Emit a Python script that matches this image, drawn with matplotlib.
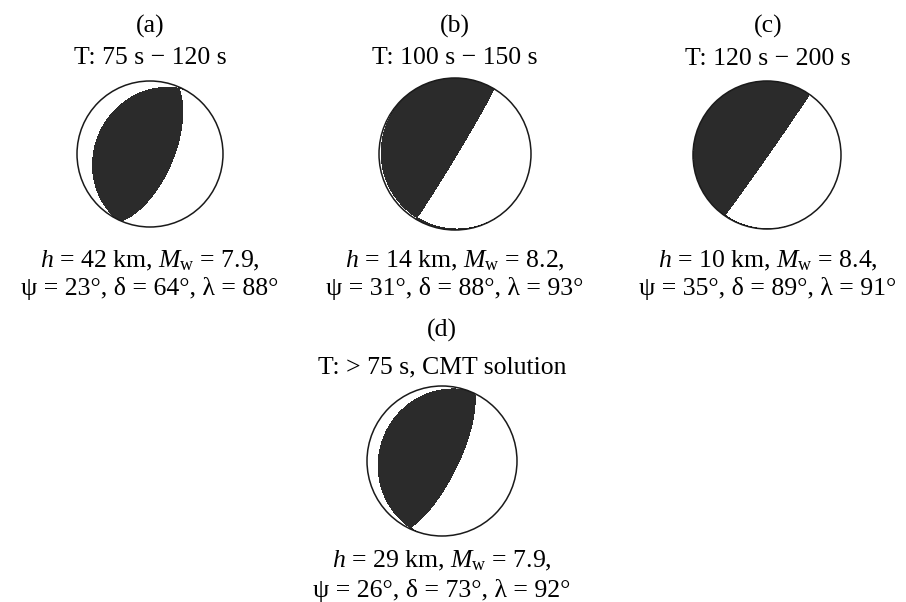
import numpy as np
import matplotlib.pyplot as plt
from matplotlib.patches import Circle

plt.rcParams['font.family'] = ['Liberation Serif', 'DejaVu Serif']
plt.rcParams['mathtext.fontset'] = 'custom'
plt.rcParams['mathtext.rm'] = 'Liberation Serif'
plt.rcParams['mathtext.it'] = 'Liberation Serif:italic'

# focal mechanisms
labels = ['(a)', '(b)', '(c)', '(d)']
periods = ['T: 75 s − 120 s', 'T: 100 s − 150 s', 'T: 120 s − 200 s', 'T: > 75 s, CMT solution']
depth = [42, 14, 10, 29]
mw = [7.9, 8.2, 8.4, 7.9]
strike = [23, 31, 35, 26]
dip = [64, 88, 89, 73]
rake = [88, 93, 91, 92]

W, H = 906, 602
# ball centre / radius in pixels, text baselines
centers = [(150, 154, 73), (455, 154, 76), (767, 155, 74), (442, 461, 75)]
text_x = [150, 455, 768, 442]
text_y = [(33, 64, 267, 295), (33, 64, 267, 295), (33, 65, 267, 295), (337, 373, 567, 597)]
dark = '#2b2b2b'
fs = 18.5


def moment_tensor(s, d, r):
    f, d, l = np.radians([s, d, r])
    mxx = -(np.sin(d) * np.cos(l) * np.sin(2 * f) + np.sin(2 * d) * np.sin(l) * np.sin(f) ** 2)
    myy = np.sin(d) * np.cos(l) * np.sin(2 * f) - np.sin(2 * d) * np.sin(l) * np.cos(f) ** 2
    mzz = np.sin(2 * d) * np.sin(l)
    mxy = np.sin(d) * np.cos(l) * np.cos(2 * f) + 0.5 * np.sin(2 * d) * np.sin(l) * np.sin(2 * f)
    mxz = -(np.cos(d) * np.cos(l) * np.cos(f) + np.cos(2 * d) * np.sin(l) * np.sin(f))
    myz = -(np.cos(d) * np.cos(l) * np.sin(f) - np.cos(2 * d) * np.sin(l) * np.cos(f))
    return np.array([[mxx, mxy, mxz], [mxy, myy, myz], [mxz, myz, mzz]])


def beachball(ax, s, d, r):
    g = np.linspace(-1.08, 1.08, 900)
    X, Y = np.meshgrid(g, g)
    rr = np.clip(np.hypot(X, Y), 0, 1.4)
    inc = 2 * np.arcsin(rr / np.sqrt(2))  # equal-area, lower hemisphere
    az = np.arctan2(X, Y)
    n = np.stack([np.sin(inc) * np.cos(az), np.sin(inc) * np.sin(az), np.cos(inc)])
    M = moment_tensor(s, d, r)
    amp = np.einsum('iab,ij,jab->ab', n, M, n)
    circ = Circle((0, 0), 1, transform=ax.transData)
    cs = ax.contourf(X, Y, amp, levels=[0, amp.max() + 1], colors=[dark])
    cs.set_clip_path(circ)
    ax.add_patch(Circle((0, 0), 1, fill=False, ec='#1a1a1a', lw=1.1, zorder=3))
    ax.set_xlim(-1.06, 1.06)
    ax.set_ylim(-1.06, 1.06)
    ax.set_aspect('equal')
    ax.axis('off')


fig = plt.figure(figsize=(W / 100, H / 100), dpi=100)

for k in range(4):
    cx, cy, rad = centers[k]
    sz = 1.06 * rad
    ax = fig.add_axes([(cx - sz) / W, 1 - (cy + sz) / H, 2 * sz / W, 2 * sz / H])
    beachball(ax, strike[k], dip[k], rake[k])

    x = text_x[k] / W
    y0, y1, y2, y3 = [1 - v / H for v in text_y[k]]
    fig.text(x, y0, labels[k], ha='center', va='baseline', fontsize=fs)
    fig.text(x, y1, periods[k], ha='center', va='baseline', fontsize=fs)
    fig.text(x, y2, r'$h$ = %d km, $M_\mathrm{w}$ = %.1f,' % (depth[k], mw[k]),
             ha='center', va='baseline', fontsize=fs)
    fig.text(x, y3, 'ψ = %d°, δ = %d°, λ = %d°' % (strike[k], dip[k], rake[k]),
             ha='center', va='baseline', fontsize=fs)

fig.savefig('out.png', dpi=100)
